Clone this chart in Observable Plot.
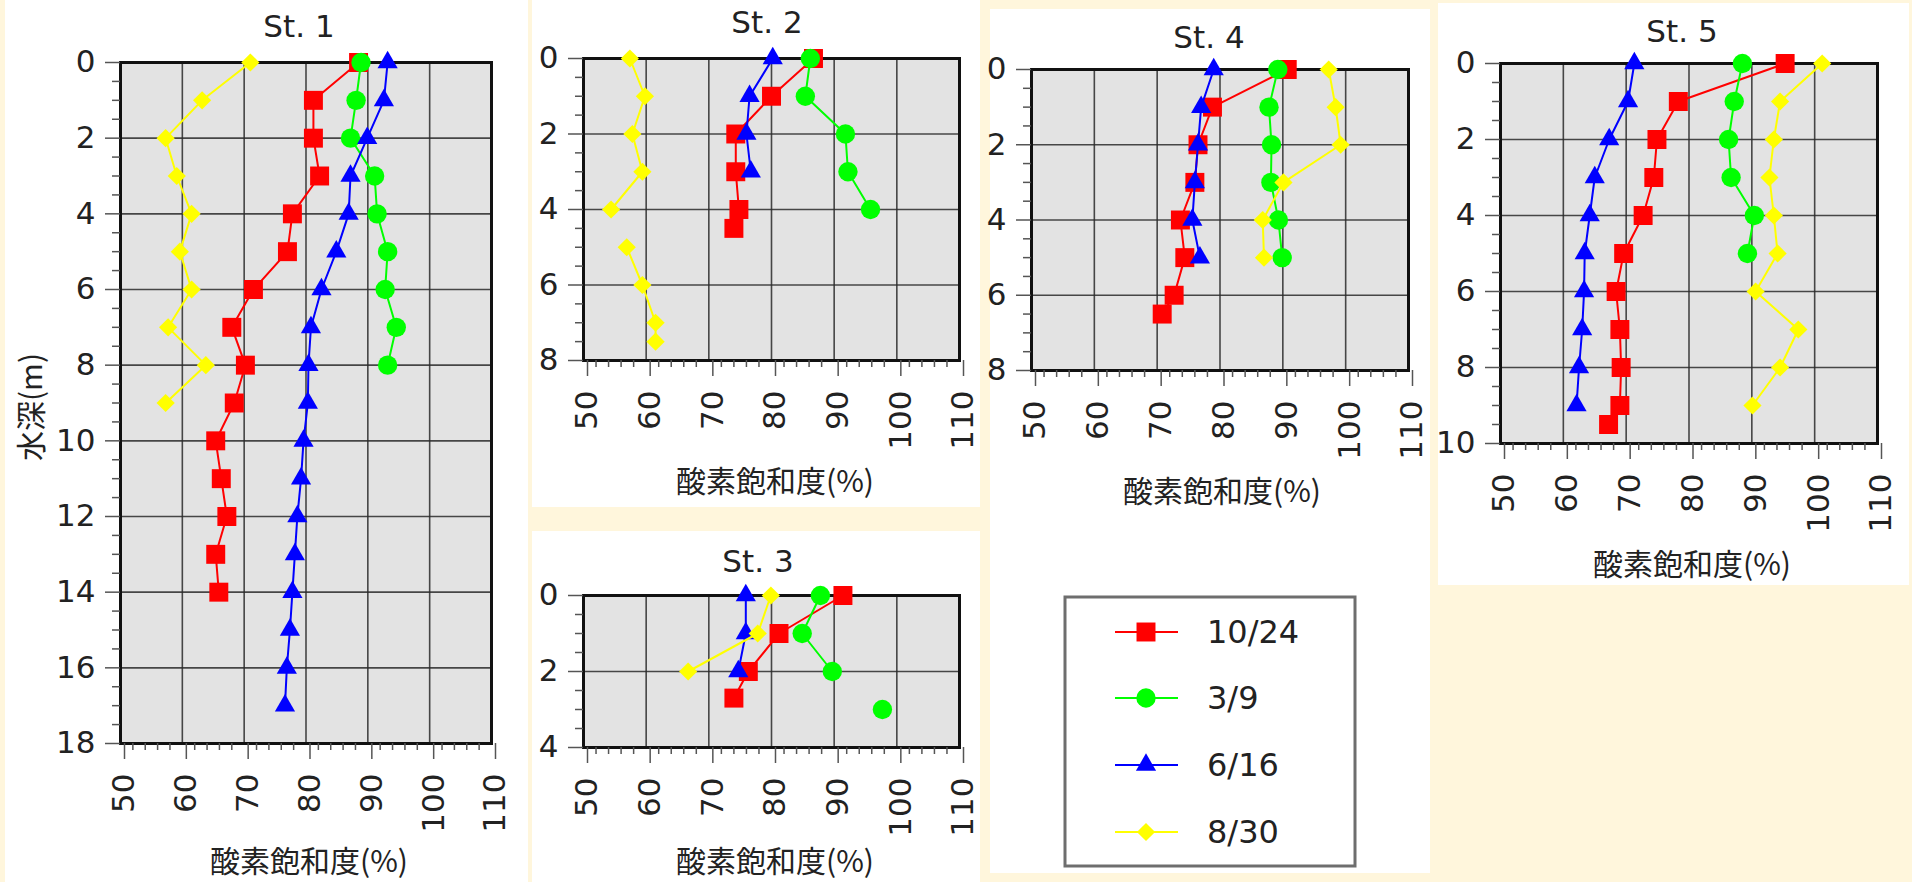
<!DOCTYPE html>
<html><head><meta charset="utf-8">
<script src="https://cdn.jsdelivr.net/npm/d3@7"></script>
<script src="https://cdn.jsdelivr.net/npm/@observablehq/plot@0.6"></script>
<style>
html,body{margin:0;padding:0;}
body{background:#fff6dc;width:1912px;height:882px;overflow:hidden;position:relative;font-family:"DejaVu Sans",sans-serif;}
.panel{position:absolute;background:#ffffff;}
.chart{position:absolute;}
#overlay{position:absolute;left:0;top:0;pointer-events:none;}
</style>
</head><body>
<script>
// ---------- data ----------
const dates = ["10/24", "3/9", "6/16", "8/30"];
const stationNames = ["St. 1", "St. 2", "St. 3", "St. 4", "St. 5"];
const xMajorTicks = [50, 60, 70, 80, 90, 100, 110];
const xAxisTitle = "酸素飽和度(%)";
const yAxisTitle = "水深(m)";

// St. 1
const st1Depth1024 = [0,1,2,3,4,5,6,7,8,9,10,11,12,13,14];
const st1Sat1024   = [88.5,81.2,81.2,82.2,77.8,77.0,71.5,68.0,70.2,68.4,65.4,66.3,67.2,65.4,65.9];
const st1Depth0309 = [0,1,2,3,4,5,6,7,8];
const st1Sat0309   = [88.9,88.1,87.2,91.1,91.5,93.2,92.8,94.6,93.2];
const st1Depth0616 = [0,1,2,3,4,5,6,7,8,9,10,11,12,13,14,15,16,17];
const st1Sat0616   = [93.2,92.6,89.9,87.2,86.9,84.9,82.5,80.8,80.4,80.3,79.6,79.2,78.6,78.2,77.8,77.4,76.9,76.6];
const st1Depth0830 = [0,1,2,3,4,5,6,7,8,9];
const st1Sat0830   = [71.0,63.2,57.3,59.1,61.5,59.6,61.5,57.7,63.8,57.3];

// St. 2  (null = break in the line)
const st2Depth1024 = [0,1,2,3,4,4.5];
const st2Sat1024   = [86.7,80.0,74.3,74.3,74.8,74.0];
const st2Depth0309 = [0,1,2,3,4];
const st2Sat0309   = [86.2,85.4,91.8,92.2,95.8];
const st2Depth0616 = [0,1,2,3];
const st2Sat0616   = [80.2,76.5,76.0,76.7];
const st2Depth0830 = [0,1,2,3,4,null,5,6,7,7.5];
const st2Sat0830   = [57.4,59.8,57.8,59.4,54.4,null,56.9,59.4,61.5,61.5];

// St. 3
const st3Depth1024 = [0,1,2,2.7];
const st3Sat1024   = [91.4,81.2,76.3,74.0];
const st3Depth0309 = [0,1,2,null,3];
const st3Sat0309   = [87.8,84.9,89.7,null,97.7];
const st3Depth0616 = [0,1,2];
const st3Sat0616   = [75.9,75.9,74.7];
const st3Depth0830 = [0,1,2];
const st3Sat0830   = [79.9,77.8,66.7];

// St. 4
const st4Depth1024 = [0,1,2,3,4,5,6,6.5];
const st4Sat1024   = [90.7,78.8,76.5,76.0,73.7,74.4,72.7,70.8];
const st4Depth0309 = [0,1,2,3,4,5];
const st4Sat0309   = [89.2,87.8,88.2,88.1,89.3,89.9];
const st4Depth0616 = [0,1,2,3,4,5];
const st4Sat0616   = [79.0,77.0,76.5,76.0,75.6,76.8];
const st4Depth0830 = [0,1,2,3,4,5];
const st4Sat0830   = [97.3,98.4,99.2,90.1,86.8,87.0];

// St. 5
const st5Depth1024 = [0,1,2,3,4,5,6,7,8,9,9.5];
const st5Sat1024   = [95.3,78.3,74.9,74.4,72.7,69.6,68.4,69.0,69.2,69.0,67.2];
const st5Depth0309 = [0,1,2,3,4,5];
const st5Sat0309   = [88.5,87.2,86.3,86.7,90.4,89.3];
const st5Depth0616 = [0,1,2,3,4,5,6,7,8,9];
const st5Sat0616   = [71.3,70.3,67.3,65.0,64.2,63.4,63.3,63.0,62.5,62.1];
const st5Depth0830 = [0,1,2,3,4,5,6,7,8,9];
const st5Sat0830   = [101.2,94.5,93.5,92.8,93.5,94.1,90.6,97.4,94.5,90.1];

const yMaxByStation = [18, 8, 4, 8, 10];

// ---------- styling / layout ----------
const seriesStyle = [
  {color: "#ff0000", symbol: "square",   r: 10.7},
  {color: "#00ff00", symbol: "circle",   r: 9.7},
  {color: "#0000ff", symbol: "triangle", r: 7.5},
  {color: "#ffff00", symbol: "diamond2", r: 8.2}
];
// plot frame [left, top, right, bottom] in page pixels
const frames = [
  [120, 62, 491, 743],
  [583, 58, 959, 360],
  [583, 595, 959, 747],
  [1031, 69, 1408, 370],
  [1500, 63, 1877, 443]
];
const whitePanels = [
  [5, 0, 523, 882],
  [532, 0, 448, 507],
  [532, 531, 448, 351],
  [990, 9, 440, 864],
  [1438, 3, 471, 582]
];
const titlePos = [[299, 37], [767, 33], [758, 572], [1209, 48], [1682, 42]];
const xLabelPos = [[309, 859], [775, 479], [775, 859], [1222, 489], [1692, 562]];

const allData = [
  [[st1Depth1024, st1Sat1024], [st1Depth0309, st1Sat0309], [st1Depth0616, st1Sat0616], [st1Depth0830, st1Sat0830]],
  [[st2Depth1024, st2Sat1024], [st2Depth0309, st2Sat0309], [st2Depth0616, st2Sat0616], [st2Depth0830, st2Sat0830]],
  [[st3Depth1024, st3Sat1024], [st3Depth0309, st3Sat0309], [st3Depth0616, st3Sat0616], [st3Depth0830, st3Sat0830]],
  [[st4Depth1024, st4Sat1024], [st4Depth0309, st4Sat0309], [st4Depth0616, st4Sat0616], [st4Depth0830, st4Sat0830]],
  [[st5Depth1024, st5Sat1024], [st5Depth0309, st5Sat0309], [st5Depth0616, st5Sat0616], [st5Depth0830, st5Sat0830]]
];

whitePanels.forEach(([x, y, w, h]) => {
  const d = document.createElement("div");
  d.className = "panel";
  Object.assign(d.style, {left: x + "px", top: y + "px", width: w + "px", height: h + "px"});
  document.body.appendChild(d);
});

const ML = 90, MR = 40, MT = 20, MB = 110;
const xMinorTicks = d3.range(50, 110.01, 2).filter(v => v % 10 !== 0);
const intFormat = d => String(Math.round(d));

allData.forEach((series, si) => {
  const [L, T, R, B] = frames[si];
  const yMax = yMaxByStation[si];
  const yMajor = d3.range(0, yMax + 0.01, 2);
  const yMinor = d3.range(0, yMax + 0.01, 0.5).filter(v => v % 2 !== 0);
  const marks = [
    Plot.frame({fill: "#e3e3e3", stroke: null}),
    Plot.gridX({ticks: xMajorTicks, stroke: "#2a2a2a", strokeOpacity: 0.85, strokeWidth: 1.6}),
    Plot.gridY({ticks: yMajor, stroke: "#2a2a2a", strokeOpacity: 0.85, strokeWidth: 1.6}),
    Plot.frame({stroke: "#111", strokeWidth: 3}),
    Plot.axisY({ticks: yMinor, tickSize: 8, text: null, label: null, stroke: "#555", strokeWidth: 1.5}),
    Plot.axisY({ticks: yMajor, tickSize: 15, tickPadding: 10, tickFormat: intFormat, fontSize: 31, label: null, stroke: "#555", strokeWidth: 1.5, fill: "#222"}),
    Plot.axisX({ticks: xMinorTicks, tickSize: 7, text: null, label: null, stroke: "#555", strokeWidth: 1.5}),
    Plot.axisX({ticks: xMajorTicks, tickSize: 16, tickPadding: 14, tickRotate: -90, tickFormat: intFormat, fontSize: 31, label: null, stroke: "#555", strokeWidth: 1.5, fill: "#222", dx: 4})
  ];
  series.forEach(([depths, sats], k) => {
    const rows = depths.map((d, i) => ({depth: d, sat: sats[i]}));
    const st = seriesStyle[k];
    marks.push(Plot.line(rows, {x: "sat", y: "depth", stroke: st.color, strokeWidth: 2}));
    marks.push(Plot.dot(rows.filter(r => r.sat != null), {x: "sat", y: "depth", symbol: st.symbol, r: st.r, fill: st.color, stroke: "none"}));
  });
  const chart = Plot.plot({
    width: R - L + ML + MR,
    height: B - T + MT + MB,
    marginLeft: ML, marginRight: MR, marginTop: MT, marginBottom: MB,
    x: {domain: [50, 110]},
    y: {domain: [0, yMax], reverse: true},
    style: {background: "transparent", fontFamily: "DejaVu Sans", color: "#333", overflow: "visible", maxWidth: "none"},
    marks
  });
  const div = document.createElement("div");
  div.className = "chart";
  Object.assign(div.style, {left: (L - ML) + "px", top: (T - MT) + "px", width: (R - L + ML + MR) + "px", height: (B - T + MT + MB) + "px"});
  div.appendChild(chart);
  document.body.appendChild(div);
});

// ---------- titles, axis titles, legend ----------
const svg = d3.select("body").append("svg").attr("id", "overlay").attr("width", 1912).attr("height", 882);
stationNames.forEach((name, i) => {
  svg.append("text").attr("x", titlePos[i][0]).attr("y", titlePos[i][1])
    .attr("text-anchor", "middle").attr("font-family", "DejaVu Sans").attr("font-size", 31).attr("fill", "#222").text(name);
  svg.append("text").attr("x", xLabelPos[i][0]).attr("y", xLabelPos[i][1])
    .attr("text-anchor", "middle").attr("dominant-baseline", "central")
    .attr("font-family", "Noto Sans CJK JP").attr("font-size", 30).attr("fill", "#222").text(xAxisTitle);
});
svg.append("text").attr("transform", "translate(29,407) rotate(-90)")
  .attr("text-anchor", "middle").attr("dominant-baseline", "central")
  .attr("font-family", "Noto Sans CJK JP").attr("font-size", 30).attr("fill", "#222").text(yAxisTitle);

svg.append("rect").attr("x", 1065).attr("y", 597).attr("width", 290).attr("height", 269)
  .attr("fill", "#fff").attr("stroke", "#6e6e6e").attr("stroke-width", 3);
const legendY = [632, 698, 765, 832];
const symMap = {square: d3.symbolSquare, circle: d3.symbolCircle, triangle: d3.symbolTriangle, diamond2: d3.symbolDiamond2};
dates.forEach((d, i) => {
  const st = seriesStyle[i];
  const g = svg.append("g");
  g.append("line").attr("x1", 1115).attr("x2", 1178).attr("y1", legendY[i]).attr("y2", legendY[i])
    .attr("stroke", st.color).attr("stroke-width", 2);
  g.append("path").attr("transform", `translate(1146,${legendY[i]})`)
    .attr("d", d3.symbol(symMap[st.symbol], Math.PI * st.r * st.r)()).attr("fill", st.color);
  g.append("text").attr("x", 1207).attr("y", legendY[i]).attr("dominant-baseline", "central")
    .attr("font-family", "DejaVu Sans").attr("font-size", 32).attr("fill", "#222").text(d);
});
</script>
</body></html>
